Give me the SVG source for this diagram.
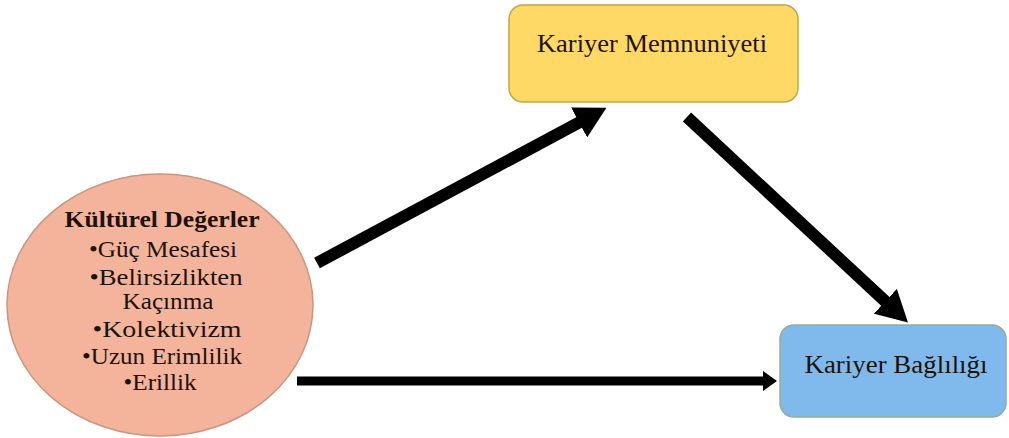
<svg xmlns="http://www.w3.org/2000/svg" width="1009" height="438" viewBox="0 0 1009 438">
<style>
.t{font-family:"Liberation Serif","Times New Roman",serif;fill:#1e1208;text-anchor:middle}
.b{font-weight:bold}
.c{stroke:#000;fill:none}
</style>
<defs>
<marker id="hBig" markerUnits="userSpaceOnUse" markerWidth="31" markerHeight="34" viewBox="0 0 31 34" refX="1" refY="17" orient="auto">
<path d="M0,0 L31,17 L0,34 z" fill="#000"/>
</marker>
<marker id="hSmall" markerUnits="userSpaceOnUse" markerWidth="14" markerHeight="20" viewBox="0 0 14 20" refX="1" refY="10" orient="auto">
<path d="M0,0 L14,10 L0,20 z" fill="#000"/>
</marker>
</defs>
<rect width="1009" height="438" fill="#fff"/>
<g id="connectors">
<line class="c" x1="317" y1="263" x2="580" y2="122" stroke-width="12" marker-end="url(#hBig)"/>
<line class="c" x1="687" y1="117" x2="886" y2="302" stroke-width="12" marker-end="url(#hBig)"/>
<line class="c" x1="297" y1="381" x2="764" y2="381" stroke-width="9" marker-end="url(#hSmall)"/>
</g>
<g id="kulturel">
<ellipse cx="160" cy="305" rx="153" ry="131" fill="#F4B39B" stroke="#C99680" stroke-width="1.5"/>
<text class="t b" x="162" y="227" font-size="24" textLength="195" lengthAdjust="spacingAndGlyphs">Kültürel Değerler</text>
<text class="t" x="163" y="257" font-size="24" textLength="148" lengthAdjust="spacingAndGlyphs">•Güç Mesafesi</text>
<text class="t" x="166" y="285" font-size="24" textLength="153" lengthAdjust="spacingAndGlyphs">•Belirsizlikten</text>
<text class="t" x="168" y="309" font-size="24" textLength="91" lengthAdjust="spacingAndGlyphs">Kaçınma</text>
<text class="t" x="167" y="337" font-size="24" textLength="149" lengthAdjust="spacingAndGlyphs">•Kolektivizm</text>
<text class="t" x="162" y="364" font-size="24" textLength="160" lengthAdjust="spacingAndGlyphs">•Uzun Erimlilik</text>
<text class="t" x="160" y="390" font-size="24" textLength="73" lengthAdjust="spacingAndGlyphs">•Erillik</text>
</g>
<g id="memnuniyet">
<rect x="509" y="5" width="289" height="97" rx="14" fill="#FFD966" stroke="#C4A54A" stroke-width="1.5"/>
<text class="t" x="652" y="52" font-size="25" textLength="230" lengthAdjust="spacingAndGlyphs">Kariyer Memnuniyeti</text>
</g>
<g id="baglilik">
<rect x="780" y="325" width="226" height="92" rx="14" fill="#80B9EC" stroke="#93AE97" stroke-width="1.5"/>
<text class="t" x="896" y="373" font-size="25" textLength="183" lengthAdjust="spacingAndGlyphs">Kariyer Bağlılığı</text>
</g>
</svg>
